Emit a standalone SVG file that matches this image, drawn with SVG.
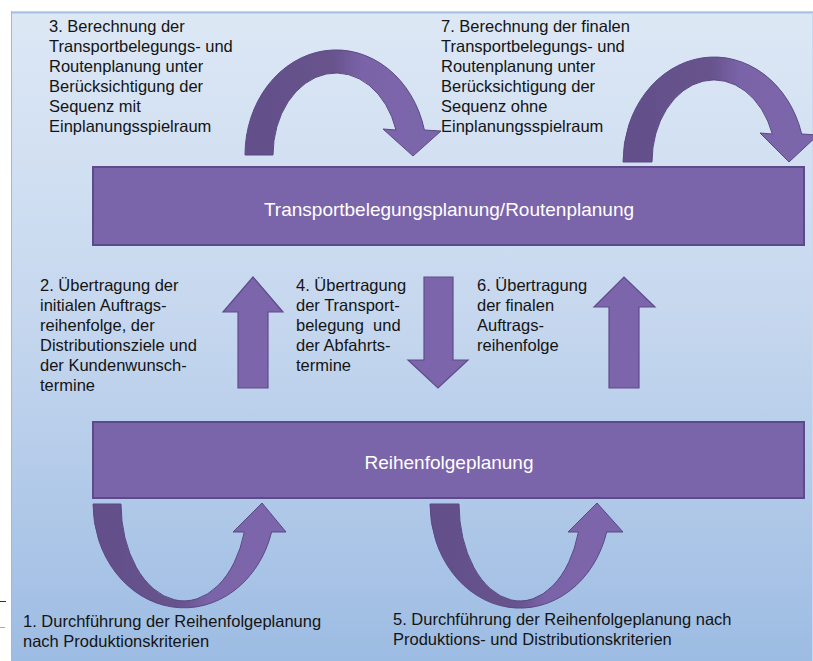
<svg xmlns="http://www.w3.org/2000/svg" width="813" height="661" viewBox="0 0 813 661">
  <defs>
    <linearGradient id="bg" x1="0" y1="0" x2="0" y2="1">
      <stop offset="0" stop-color="#dde8f5"/>
      <stop offset="0.5" stop-color="#c4d6ee"/>
      <stop offset="1" stop-color="#9dbce3"/>
    </linearGradient>
    <linearGradient id="curl" x1="0" y1="0" x2="1" y2="0">
      <stop offset="0" stop-color="#634f89"/>
      <stop offset="0.45" stop-color="#67538d"/>
      <stop offset="0.6" stop-color="#7a64a8"/>
      <stop offset="1" stop-color="#7c66ab"/>
    </linearGradient>
    <filter id="soft" x="-5%" y="-5%" width="110%" height="110%">
      <feGaussianBlur stdDeviation="0.5"/>
    </filter>
  </defs>
  <style>
    .box { fill: #7b65aa; stroke: #5d4a8a; stroke-width: 2; }
    .arrow { fill: #7b65aa; stroke: #5f4c8c; stroke-width: 1.2; }
    .curl { fill: url(#curl); stroke: #5a4884; stroke-width: 1; }
    .lbl { font-family: "Liberation Sans", Arial, sans-serif; font-size: 16.5px; fill: #141414; }
    .boxlbl { font-family: "Liberation Sans", Arial, sans-serif; font-size: 19px; fill: #ffffff; text-anchor: middle; }
  </style>

  <!-- background panel -->
  <rect x="11" y="11" width="802" height="650" fill="url(#bg)"/>
  <line x1="11" y1="12.5" x2="813" y2="12.5" stroke="#a9c1e1" stroke-width="2"/>
  <line x1="11.5" y1="11" x2="11.5" y2="661" stroke="#9fb8da" stroke-width="1"/>
  <line x1="812.5" y1="13" x2="812.5" y2="661" stroke="#c9d8ec" stroke-width="1"/>
  <line x1="0" y1="601.5" x2="6" y2="601.5" stroke="#333333" stroke-width="1"/>
  <line x1="0" y1="627.5" x2="5" y2="627.5" stroke="#8fb0e0" stroke-width="1"/>

  <!-- planning blocks -->
  <g id="transport">
    <rect class="box" x="93" y="167" width="711" height="78"/>
    <text class="boxlbl" x="449" y="216">Transportbelegungsplanung/Routenplanung</text>
  </g>
  <g id="sequence">
    <rect class="box" x="93" y="422" width="711" height="76"/>
    <text class="boxlbl" x="449" y="469">Reihenfolgeplanung</text>
  </g>

  <!-- arrows -->
  <g id="connectors" filter="url(#soft)">
    <!-- step 3: loop over the transport block -->
    <path class="curl" d="M245,155 A91,105 0 0 1 424.4,130 L441,131 L413,156 L383,129 L396,130 A63,82 0 0 0 273,155 Z"/>
    <!-- step 7 -->
    <path class="curl" d="M623,162 A91,105 0 0 1 801.7,134 L818,135 L789,162 L760,133 L772.3,134 A62,82 0 0 0 652,162 Z"/>
    <!-- step 1: loop under the sequence block -->
    <path class="curl" d="M93,504 A91,104 0 0 0 271.6,532 L286,532 L262,503 L233,532 L244.3,532 A63,97 0 0 1 121,504 Z"/>
    <!-- step 5 -->
    <path class="curl" d="M430,504 A90,104 0 0 0 606.7,532 L623,532 L597,503 L568,532 L578.4,532 A61,97 0 0 1 459,504 Z"/>
    <!-- step 2 (up) -->
    <path class="arrow" d="M238,388 L238,312 L223,312 L253,277 L283,312 L268,312 L268,388 Z"/>
    <!-- step 4 (down) -->
    <path class="arrow" d="M424,277 L453,277 L453,360 L468,360 L438,388 L408,360 L424,360 Z"/>
    <!-- step 6 (up) -->
    <path class="arrow" d="M609,388 L609,307 L594,307 L624,277 L655,307 L639,307 L639,388 Z"/>
  </g>

  <!-- step descriptions -->
  <g id="step3">
    <text class="lbl" x="49" y="32">3. Berechnung der</text>
    <text class="lbl" x="49" y="52">Transportbelegungs- und</text>
    <text class="lbl" x="49" y="72">Routenplanung unter</text>
    <text class="lbl" x="49" y="92">Berücksichtigung der</text>
    <text class="lbl" x="49" y="112">Sequenz mit</text>
    <text class="lbl" x="49" y="132">Einplanungsspielraum</text>
  </g>
  <g id="step7">
    <text class="lbl" x="441" y="32">7. Berechnung der finalen</text>
    <text class="lbl" x="441" y="52">Transportbelegungs- und</text>
    <text class="lbl" x="441" y="72">Routenplanung unter</text>
    <text class="lbl" x="441" y="92">Berücksichtigung der</text>
    <text class="lbl" x="441" y="112">Sequenz ohne</text>
    <text class="lbl" x="441" y="132">Einplanungsspielraum</text>
  </g>
  <g id="step2">
    <text class="lbl" x="40" y="291">2. Übertragung der</text>
    <text class="lbl" x="40" y="311">initialen Auftrags-</text>
    <text class="lbl" x="40" y="331">reihenfolge, der</text>
    <text class="lbl" x="40" y="351">Distributionsziele und</text>
    <text class="lbl" x="40" y="371">der Kundenwunsch-</text>
    <text class="lbl" x="40" y="391">termine</text>
  </g>
  <g id="step4">
    <text class="lbl" x="296" y="291">4. Übertragung</text>
    <text class="lbl" x="296" y="311">der Transport-</text>
    <text class="lbl" x="296" y="331" xml:space="preserve">belegung  und</text>
    <text class="lbl" x="296" y="351">der Abfahrts-</text>
    <text class="lbl" x="296" y="371">termine</text>
  </g>
  <g id="step6">
    <text class="lbl" x="477" y="291">6. Übertragung</text>
    <text class="lbl" x="477" y="311">der finalen</text>
    <text class="lbl" x="477" y="331">Auftrags-</text>
    <text class="lbl" x="477" y="351">reihenfolge</text>
  </g>
  <g id="step1">
    <text class="lbl" x="23" y="627">1. Durchführung der Reihenfolgeplanung</text>
    <text class="lbl" x="23" y="647">nach Produktionskriterien</text>
  </g>
  <g id="step5">
    <text class="lbl" x="393" y="625">5. Durchführung der Reihenfolgeplanung nach</text>
    <text class="lbl" x="393" y="645">Produktions- und Distributionskriterien</text>
  </g>
</svg>
